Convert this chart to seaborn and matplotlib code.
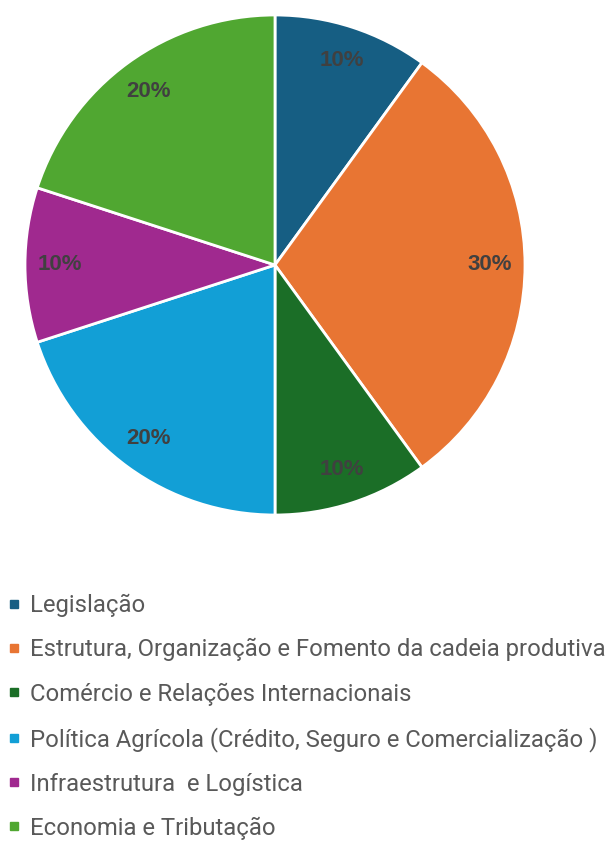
import numpy as np
import seaborn as sns
import matplotlib.pyplot as plt
from matplotlib.lines import Line2D

categories = [
    'Legislação',
    'Estrutura, Organização e Fomento da cadeia produtiva',
    'Comércio e Relações Internacionais',
    'Política Agrícola (Crédito, Seguro e Comercialização )',
    'Infraestrutura  e Logística',
    'Economia e Tributação',
]
shares = [10, 30, 10, 20, 10, 20]
colors = ['#165E83', '#E87533', '#1B6E27', '#129FD6', '#A0298F', '#50A731']

sns.set_theme(style='white')
plt.rcParams['font.family'] = ['Roboto', 'DejaVu Sans']
palette = sns.color_palette(colors)

W, H = 616, 842
fig = plt.figure(figsize=(W / 100, H / 100), dpi=100)
# pie centre ~ (275, 265) px, radius ~250 px
cx, cy, r = 275, 265, 250
ax = fig.add_axes([(cx - r) / W, (H - cy - r) / H, 2 * r / W, 2 * r / H])

wedges, texts, autotexts = ax.pie(
    shares, colors=palette, startangle=90, counterclock=False,
    autopct='%d%%', pctdistance=0.86, radius=1,
    wedgeprops=dict(edgecolor='white', linewidth=2),
    textprops=dict(color='#404040', fontsize=16, fontweight='bold',
                   family=['Liberation Sans', 'DejaVu Sans']),
)
ax.set_xlim(-1, 1)
ax.set_ylim(-1, 1)
ax.set_aspect('equal')
ax.axis('off')

handles = [Line2D([0], [0], marker='s', linestyle='none', markersize=6,
                  markerfacecolor=c, markeredgecolor=c) for c in palette]
leg = fig.legend(handles, categories, loc='upper left',
                 bbox_to_anchor=(7 / W, 1 - 594 / H), frameon=False,
                 fontsize=17.2, handlelength=0.6, handletextpad=0.36,
                 labelspacing=0.88, borderaxespad=0, borderpad=0)
for t in leg.get_texts():
    t.set_color('#595959')

fig.savefig('out.png', dpi=100)
